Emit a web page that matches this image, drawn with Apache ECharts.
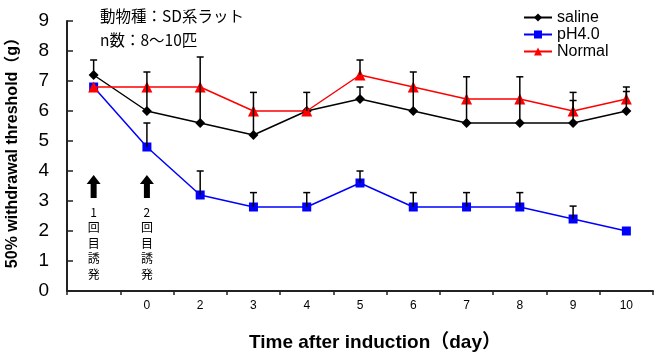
<!DOCTYPE html>
<html><head><meta charset="utf-8">
<script src="https://cdn.jsdelivr.net/npm/echarts@6/dist/echarts.min.js"></script>
<style>html,body{margin:0;padding:0;background:#fff}#c{width:660px;height:356px}</style>
</head><body><div id="c"></div>
<script>
const categories = ['', '0', '2', '3', '4', '5', '6', '7', '8', '9', '10'];
const saline = [7.2, 6.0, 5.6, 5.2, 6.0, 6.4, 6.0, 5.6, 5.6, 5.6, 6.0];
const ph40 = [6.8, 4.8, 3.2, 2.8, 2.8, 3.6, 2.8, 2.8, 2.8, 2.4, 2.0];
const normal = [6.8, 6.8, 6.8, 6.0, 6.0, 7.2, 6.8, 6.4, 6.4, 6.0, 6.4];
// upper error bar tops (null = none)
const salineErrTop = [7.7, 7.3, 7.8, 6.62, 6.62, 6.8, 7.3, 7.14, 7.14, 6.35, 6.65];
const ph40ErrTop = [null, 5.6, 4.0, 3.28, 3.28, 4.0, 3.28, 3.28, 3.28, 2.83, null];
const normalErrTop = [null, null, null, null, null, 7.7, null, null, null, 6.62, 6.8];
const yTicks = [0, 1, 2, 3, 4, 5, 6, 7, 8, 9];
const arrowIdx = [0, 1];
const arrowLabels = ['1\n回\n目\n誘\n発', '2\n回\n目\n誘\n発'];
const note1 = '動物種：SD系ラット';
const note2 = 'n数：8～10匹';

const FONT = "'Liberation Sans', 'Noto Sans CJK JP', sans-serif";
const JFONT = "'Noto Sans CJK JP', sans-serif";

function errData(vals, tops) {
  const out = [];
  vals.forEach((v, i) => { if (tops[i] != null) out.push([i, v, tops[i]]); });
  return out;
}
const allErr = errData(saline, salineErrTop).concat(errData(ph40, ph40ErrTop), errData(normal, normalErrTop));

const chart = echarts.init(document.getElementById('c'), null, {renderer: 'canvas'});
chart.setOption({
  animation: false,
  textStyle: {fontFamily: FONT},
  title: {
    text: note1 + '\n' + note2,
    left: 95, top: -1,
    textStyle: {fontFamily: JFONT, fontSize: 15.5, fontWeight: 'normal', color: '#000', lineHeight: 24}
  },
  legend: {
    data: ['saline', 'pH4.0', 'Normal'],
    orient: 'vertical', left: 518, top: 4,
    itemWidth: 28, itemHeight: 10, itemGap: 0,
    textStyle: {fontSize: 16, color: '#000', lineHeight: 17, fontFamily: FONT}
  },
  grid: {left: 67, right: 7, top: 21, bottom: 65, outerBoundsMode: 'none', containLabel: false},
  xAxis: {
    type: 'category', data: categories, boundaryGap: true,
    axisLine: {lineStyle: {color: '#222', width: 2}},
    axisTick: {show: true, inside: false, length: 4, lineStyle: {color: '#222', width: 1.5}},
    axisLabel: {interval: 0, fontSize: 12, color: '#000', margin: 9},
    name: 'Time after induction（day）', nameLocation: 'middle', nameGap: 42,
    nameTextStyle: {fontSize: 19, fontWeight: 'bold', color: '#000', padding: [0, 0, 0, 30], fontFamily: FONT}
  },
  yAxis: {
    type: 'value', min: 0, max: 9, interval: 1,
    splitLine: {show: false},
    axisLine: {show: true, lineStyle: {color: '#222', width: 2}},
    axisTick: {show: true, inside: true, length: 6, lineStyle: {color: '#222', width: 1.5}},
    axisLabel: {fontSize: 19, color: '#000', margin: 18, formatter: v => yTicks.includes(v) ? String(v) : ''},
    name: '50% withdrawal threshold（g）', nameLocation: 'middle', nameGap: 46,
    nameTextStyle: {fontSize: 16, fontWeight: 'bold', color: '#000', padding: [0, 0, 0, 14], fontFamily: FONT}
  },
  series: [
    {name: 'saline', type: 'line', data: saline, color: '#000',
     symbol: 'diamond', symbolSize: 10, lineStyle: {width: 1.5, color: '#000'}, itemStyle: {color: '#000'}, z: 3},
    {name: 'pH4.0', type: 'line', data: ph40, color: '#0000ff',
     symbol: 'rect', symbolSize: 9, lineStyle: {width: 1.5, color: '#0000ff'}, itemStyle: {color: '#0000ff'}, z: 4},
    {name: 'Normal', type: 'line', data: normal, color: '#ff0000',
     symbol: 'triangle', symbolSize: 11, lineStyle: {width: 1.5, color: '#ff0000'}, itemStyle: {color: '#ff0000'}, z: 5},
    {type: 'custom', z: 10, data: allErr, silent: true,
     renderItem: function (params, api) {
       const x = api.value(0);
       const p0 = api.coord([x, api.value(1)]);
       const p1 = api.coord([x, api.value(2)]);
       const hw = 3.5;
       return {type: 'group', children: [
         {type: 'line', shape: {x1: p0[0], y1: p0[1], x2: p1[0], y2: p1[1]}, style: {stroke: '#000', lineWidth: 1.5}},
         {type: 'line', shape: {x1: p1[0] - hw, y1: p1[1], x2: p1[0] + hw, y2: p1[1]}, style: {stroke: '#000', lineWidth: 1.5}}
       ]};
     }},
    {type: 'scatter', silent: true, z: 6,
     data: arrowIdx.map(i => [i, 3.48]),
     symbol: 'path://M7,0 L14,9 L10,9 L10,23 L4,23 L4,9 L0,9 Z',
     symbolSize: [14, 23], itemStyle: {color: '#000', opacity: 1}},
    {type: 'scatter', silent: true, z: 6,
     data: arrowIdx.map(i => [i, 1.6]),
     symbolSize: 0, itemStyle: {opacity: 1},
     label: {show: true, position: 'inside', formatter: p => arrowLabels[p.dataIndex],
       fontFamily: JFONT, fontSize: 12, lineHeight: 15.5, color: '#000', align: 'center', verticalAlign: 'middle'}}
  ]
});
</script></body></html>
